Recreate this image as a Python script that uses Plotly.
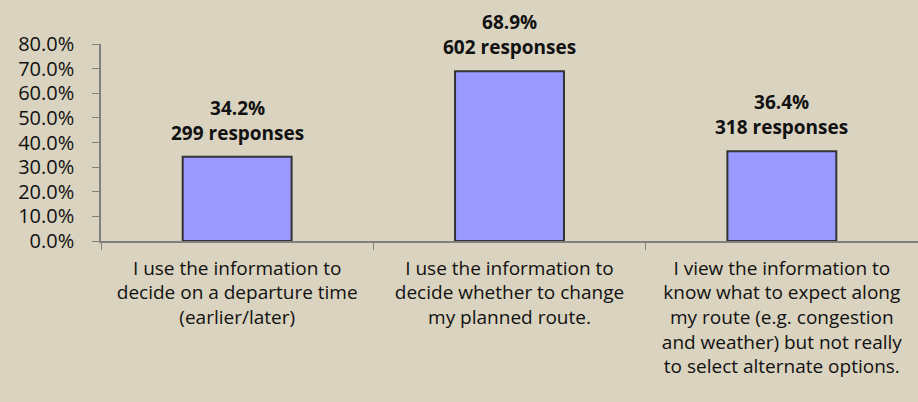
import plotly.graph_objects as go

categories = [
    "I use the information to<br>decide on a departure time<br>(earlier/later)",
    "I use the information to<br>decide whether to change<br>my planned route.",
    "I view the information to<br>know what to expect along<br>my route (e.g. congestion<br>and weather) but not really<br>to select alternate options.",
]
shares = [0.342, 0.689, 0.364]
responses = [299, 602, 318]
y_ticks = [0.0, 0.1, 0.2, 0.3, 0.4, 0.5, 0.6, 0.7, 0.8]

BG = "#D9D3BF"
FONT = "Open Sans"
keys = ["c0", "c1", "c2"]

fig = go.Figure()
fig.add_trace(go.Bar(
    x=keys, y=shares,
    marker=dict(color="#9999FF", line=dict(color="#333333", width=2)),
    hoverinfo="skip",
))

for k, v, n in zip(keys, shares, responses):
    fig.add_annotation(
        x=k, y=v, xref="x", yref="y",
        text=f"<b>{v*100:.1f}%</b><br><b>{n} responses</b>",
        showarrow=False, yanchor="bottom", yshift=9,
        font=dict(family=FONT, size=19, color="#111111"),
    )

fig.update_layout(
    width=918, height=402,
    margin=dict(l=101, r=0, t=44, b=161),
    paper_bgcolor=BG, plot_bgcolor=BG,
    bargap=0.6,
    showlegend=False,
    font=dict(family=FONT, color="#111111"),
)
fig.update_xaxes(
    tickmode="array", tickvals=keys, ticktext=categories,
    tickangle=0, tickson="boundaries",
    ticks="outside", ticklen=7, tickcolor="#808080",
    showline=True, linecolor="#808080", linewidth=1.5,
    tickfont=dict(family=FONT, size=19, color="#111111"),
    ticklabelstandoff=9,
)
fig.update_yaxes(
    range=[0, 0.8], tickvals=y_ticks, tickformat=".1%",
    ticks="outside", ticklen=7, tickcolor="#808080",
    showline=True, linecolor="#808080", linewidth=1.5,
    showgrid=False, zeroline=False,
    tickfont=dict(family=FONT, size=20, color="#111111"),
    ticklabelstandoff=14,
)

fig.write_html(
    "out.html",
    config={"displayModeBar": False},
    post_script="document.body.style.margin='0';document.body.style.padding='0';",
)
